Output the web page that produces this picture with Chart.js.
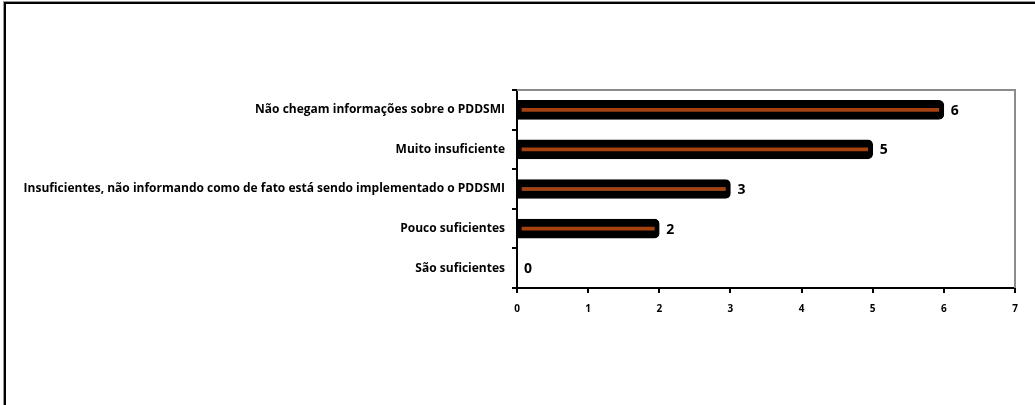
<!DOCTYPE html>
<html>
<head>
<meta charset="utf-8">
<script src="https://cdn.jsdelivr.net/npm/chart.js@4.4.1/dist/chart.umd.min.js"></script>
<style>
    html, body { margin: 0; padding: 0; background: #fff; overflow: hidden; }
    #wrap { position: relative; width: 1035px; height: 405px; }
    #frame {
        position: absolute; left: 4px; top: 2px; width: 1100px; height: 500px;
        border-top: 2px solid #000; border-left: 2px solid #000;
        box-shadow: -1px -1px 0 #999;
        pointer-events: none;
    }
    canvas { position: absolute; left: 0; top: 0; }
</style>
</head>
<body>
<div id="wrap">
    <canvas id="chart" width="1035" height="405"></canvas>
    <div id="frame"></div>
</div>
<script>
// Categories (top to bottom) and answer counts
const categories = [
    'Não chegam informações sobre o PDDSMI',
    'Muito insuficiente',
    'Insuficientes, não informando como de fato está sendo implementado o PDDSMI',
    'Pouco suficientes',
    'São suficientes'
];
const values = [6, 5, 3, 2, 0];
const xTicks = [0, 1, 2, 3, 4, 5, 6, 7];

const FONT = '"Open Sans", Lato, sans-serif';

// Value printed right after each bar
const valueLabels = {
    id: 'valueLabels',
    afterDatasetsDraw(chart) {
        const ctx = chart.ctx;
        const meta = chart.getDatasetMeta(0);
        ctx.save();
        ctx.font = 'bold 14px ' + FONT;
        ctx.fillStyle = '#000';
        ctx.textAlign = 'left';
        ctx.textBaseline = 'middle';
        meta.data.forEach((bar, i) => {
            ctx.fillText(String(values[i]), bar.x + 7, bar.y + 1);
        });
        ctx.restore();
    }
};

// Grey top/right edge of the plot area
const plotFrame = {
    id: 'plotFrame',
    beforeDatasetsDraw(chart) {
        const { ctx, chartArea: a } = chart;
        ctx.save();
        ctx.strokeStyle = '#8c8c8c';
        ctx.lineWidth = 2;
        ctx.beginPath();
        ctx.moveTo(a.left, a.top);
        ctx.lineTo(a.right, a.top);
        ctx.lineTo(a.right, a.bottom);
        ctx.stroke();
        ctx.restore();
    }
};

const ctx = document.getElementById('chart').getContext('2d');
const chart = new Chart(ctx, {
    type: 'bar',
    data: {
        labels: categories,
        datasets: [{
            data: values,
            backgroundColor: '#a5420f',
            borderColor: '#000',
            borderWidth: { top: 8, bottom: 8, left: 4, right: 5 },
            borderSkipped: false,
            borderRadius: { topLeft: 0, bottomLeft: 0, topRight: 5, bottomRight: 5 },
            barThickness: 19
        }]
    },
    plugins: [plotFrame, valueLabels],
    options: {
        indexAxis: 'y',
        responsive: false,
        animation: false,
        layout: {
            padding: { left: 0, top: 90, right: 20, bottom: 87 }
        },
        scales: {
            x: {
                min: 0,
                max: 7,
                afterBuildTicks: (scale) => {
                    scale.ticks = xTicks.map(v => ({ value: v }));
                },
                afterFit: (scale) => { scale.height = 30; },
                border: { color: '#000', width: 2 },
                grid: {
                    drawOnChartArea: false,
                    color: '#000',
                    lineWidth: 2,
                    tickLength: 5
                },
                ticks: {
                    color: '#000',
                    padding: 10,
                    font: { family: FONT, size: 10, weight: 'bold' }
                }
            },
            y: {
                afterFit: (scale) => { scale.width = 517; },
                border: { color: '#000', width: 2 },
                grid: {
                    offset: true,
                    drawOnChartArea: false,
                    color: '#000',
                    lineWidth: 2,
                    tickLength: 5
                },
                ticks: {
                    color: '#000',
                    padding: 7,
                    font: { family: FONT, size: 12, weight: 'bold' }
                }
            }
        },
        plugins: {
            legend: { display: false },
            tooltip: { enabled: false }
        }
    }
});
</script>
</body>
</html>
